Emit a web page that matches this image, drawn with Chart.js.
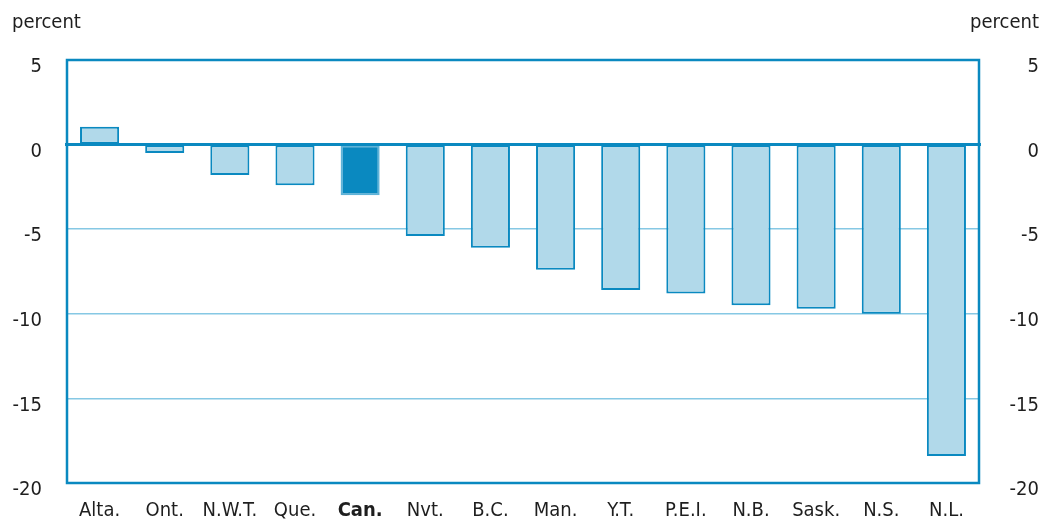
<!DOCTYPE html>
<html><head><meta charset="utf-8">
<script src="https://cdn.jsdelivr.net/npm/chart.js@4"></script>
<style>html,body{margin:0;padding:0;background:#fff}</style>
</head><body>
<canvas id="c" width="1053" height="523" style="width:1053px;height:523px;display:block"></canvas>
<script>
const categories = ['Alta.', 'Ont.', 'N.W.T.', 'Que.', 'Can.', 'Nvt.', 'B.C.', 'Man.', 'Y.T.', 'P.E.I.', 'N.B.', 'Sask.', 'N.S.', 'N.L.'];
const values = [1.05, -0.5, -1.8, -2.4, -3.0, -5.4, -6.1, -7.4, -8.6, -8.8, -9.5, -9.7, -10.0, -18.4];
const highlightCategory = 'Can.';
const yTickValues = [5, 0, -5, -10, -15, -20];
const unitLabel = 'percent';

const DARK = '#0a89c0';
const LIGHT_FILL = '#b1d9ea';
const GRID = '#86c8e4';
const TEXT = '#1e1e1e';
const FONT = '"DejaVu Sans Condensed", "Liberation Sans Narrow", "Liberation Sans", sans-serif';

const yMin = Math.min(...yTickValues), yMax = Math.max(...yTickValues);
const step = yTickValues[0] - yTickValues[1];

const framePlugin = {
  id: 'frame',
  afterDatasetsDraw(chart) {
    const {ctx, chartArea: a, scales} = chart;
    ctx.save();
    const y0 = scales.y.getPixelForValue(0);
    ctx.strokeStyle = DARK;
    ctx.lineWidth = 3;
    ctx.beginPath();
    ctx.moveTo(a.left - 2, y0);
    ctx.lineTo(a.right + 2, y0);
    ctx.stroke();
    ctx.lineWidth = 2.5;
    ctx.strokeRect(a.left, a.top, a.right - a.left, a.bottom - a.top);
    ctx.restore();
  },
  afterDraw(chart) {
    const {ctx} = chart;
    ctx.save();
    ctx.font = '20px ' + FONT;
    ctx.fillStyle = TEXT;
    ctx.textBaseline = 'alphabetic';
    ctx.textAlign = 'left';
    ctx.fillText(unitLabel, 12, 28);
    ctx.textAlign = 'right';
    ctx.fillText(unitLabel, 1039, 28);
    ctx.restore();
  }
};

const tickFont = {family: FONT, size: 20};

new Chart(document.getElementById('c'), {
  type: 'bar',
  data: {
    labels: categories,
    datasets: [{
      data: values,
      backgroundColor: categories.map(c => c === highlightCategory ? DARK : LIGHT_FILL),
      borderColor: categories.map(c => c === highlightCategory ? '#5fb3d8' : DARK),
      borderWidth: 2,
      borderSkipped: false,
      barPercentage: 0.6,
      categoryPercentage: 1.0
    }]
  },
  options: {
    responsive: false,
    animation: false,
    layout: {padding: {top: 60, right: 14, bottom: 0, left: 0}},
    plugins: {legend: {display: false}, tooltip: {enabled: false}},
    scales: {
      x: {
        grid: {display: false, drawTicks: false},
        border: {display: false},
        ticks: {
          color: TEXT,
          padding: 16,
          maxRotation: 0,
          autoSkip: false,
          font: ctx => ({family: FONT, size: 20, weight: categories[ctx.index] === highlightCategory ? 'bold' : 'normal'})
        },
        afterFit: s => { s.height = 40; }
      },
      y: {
        position: 'left',
        min: yMin, max: yMax,
        afterBuildTicks: s => { s.ticks = yTickValues.map(v => ({value: v})); },
        ticks: {stepSize: step, padding: 25, labelOffset: 7, color: TEXT, font: tickFont},
        grid: {color: ctx => (ctx.tick && ctx.tick.value === 0) ? 'rgba(0,0,0,0)' : GRID, lineWidth: 1.5, drawTicks: false},
        border: {display: false},
        afterFit: s => { s.width = 67; }
      },
      y2: {
        position: 'right',
        min: yMin, max: yMax,
        afterBuildTicks: s => { s.ticks = yTickValues.map(v => ({value: v})); },
        ticks: {stepSize: step, crossAlign: 'far', labelOffset: 7, color: TEXT, font: tickFont},
        grid: {display: false, drawTicks: false},
        border: {display: false},
        afterFit: s => { s.width = 60; }
      }
    }
  },
  plugins: [framePlugin]
});
</script>
</body></html>
